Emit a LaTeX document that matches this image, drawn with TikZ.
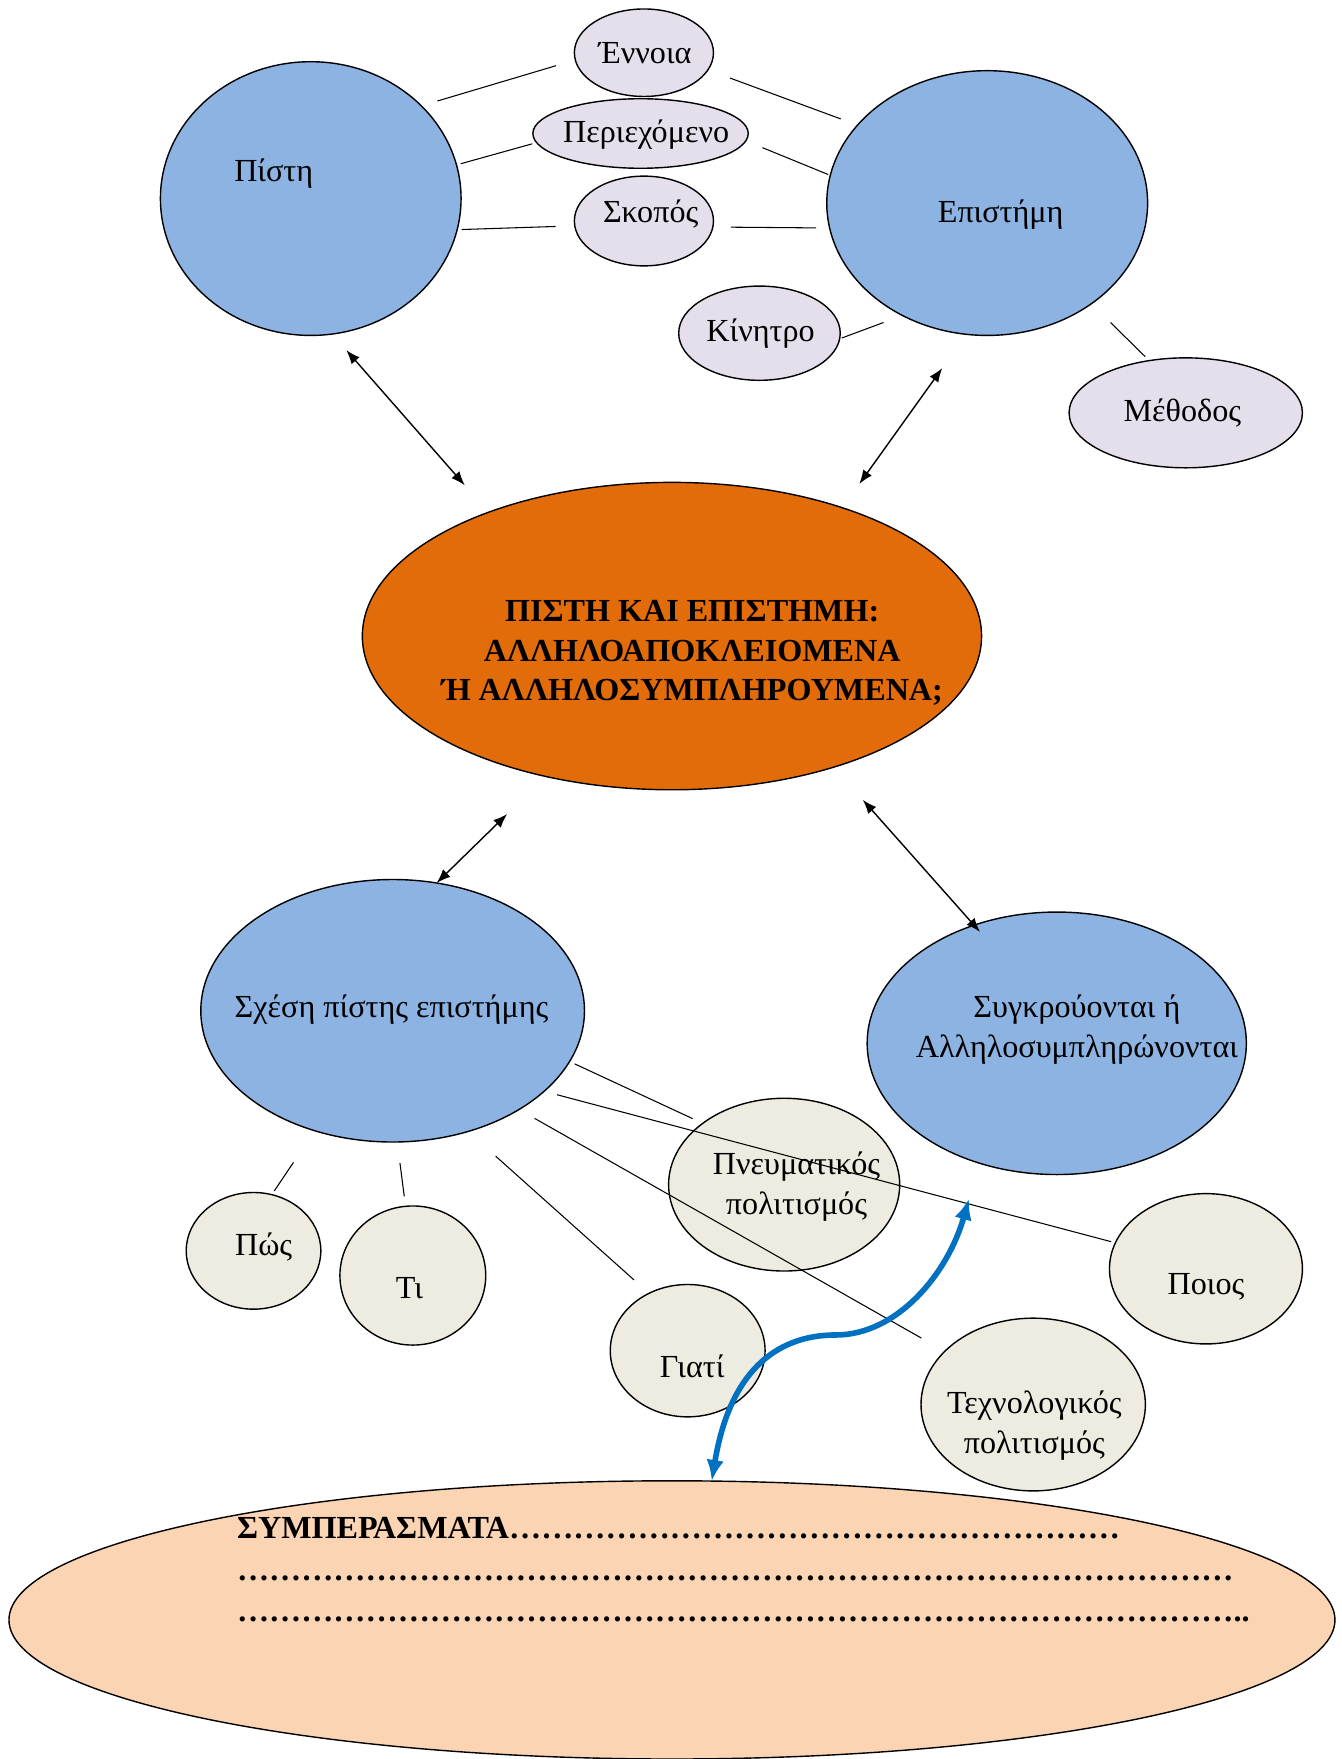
\documentclass[tikz,border=0pt]{standalone}
\usepackage{fontspec}
\setmainfont{Liberation Serif}
\usepackage{tikz}
\usetikzlibrary{arrows.meta,shapes.geometric}

\definecolor{skyfill}{HTML}{8DB3E2}
\definecolor{lilacfill}{HTML}{E5DFEC}
\definecolor{beigefill}{HTML}{EEECE1}
\definecolor{orangefill}{HTML}{E36C0A}
\definecolor{peachfill}{HTML}{FBD4B4}
\definecolor{arrowblue}{HTML}{0070C0}

\newdimen\upx \upx=0.02244cm
\newcommand{\dotrow}[1]{\foreach \k in {1,...,#1}{…}}

\tikzset{
  blob/.style={ellipse, draw, line width=0.8pt, inner sep=0pt, outer sep=0pt},
  bigblob/.style={blob, fill=skyfill},
  smallblob/.style={blob, fill=lilacfill},
  roundblob/.style={blob, fill=beigefill},
  word/.style={inner sep=0pt, align=center, font=\fontsize{18.3}{22.6}\selectfont},
  boldword/.style={word, font=\bfseries\fontsize{18.3}{22.6}\selectfont},
  link/.style={line width=0.6pt},
  twoway/.style={{Latex[length=8pt,width=6pt]}-{Latex[length=8pt,width=6pt]}, line width=0.8pt},
  bluearrow/.style={{Latex[length=12pt,width=10pt]}-{Latex[length=12pt,width=10pt]}, line width=3.2pt, draw=arrowblue}
}

\begin{document}
\begin{tikzpicture}[x=0.02244cm, y=-0.02244cm] % 17 nodes
      \useasboundingbox (0,0) rectangle (1196,1568);
      % top half
      \node[name=pisti, bigblob, minimum width=268\upx, minimum height=244\upx] at (277,177) {};
      \node[name=epist, bigblob, minimum width=286\upx, minimum height=236\upx] at (880,181) {};
      \node[name=ennoia, smallblob, minimum width=124\upx, minimum height=78\upx] at (574,47) {};
      \node[name=periex, smallblob, minimum width=192\upx, minimum height=62\upx] at (571,119) {};
      \node[name=skopos, smallblob, minimum width=124\upx, minimum height=80\upx] at (574,197) {};
      \node[name=kinitro, smallblob, minimum width=144\upx, minimum height=84\upx] at (677,297) {};
      \node[name=methodos, smallblob, minimum width=208\upx, minimum height=98\upx] at (1057,368) {};
      \node[name=central, blob, fill=orangefill, minimum width=552\upx, minimum height=274\upx] at (599,567) {};
      % bottom half
      \node[name=sxesi, bigblob, minimum width=342\upx, minimum height=234\upx] at (350,901) {};
      \node[name=sygkr, bigblob, minimum width=338\upx, minimum height=234\upx] at (942,930) {};
      \node[name=pos, roundblob, minimum width=120\upx, minimum height=104\upx] at (226,1115) {};
      \node[name=ti, roundblob, minimum width=130\upx, minimum height=124\upx] at (368,1137) {};
      \node[name=giati, roundblob, minimum width=138\upx, minimum height=118\upx] at (613,1204) {};
      \node[name=pnevm, roundblob, minimum width=206\upx, minimum height=154\upx] at (699,1056) {};
      \node[name=poios, roundblob, minimum width=172\upx, minimum height=134\upx] at (1075,1131) {};
      \node[name=texnol, roundblob, minimum width=200\upx, minimum height=154\upx] at (921,1252) {};
      \node[name=sympe, blob, fill=peachfill, minimum width=1182\upx, minimum height=248\upx] at (599,1444) {};

      \node[word, name=pistiTxt] at (244,155) {Πίστη};
      \node[word, name=epistTxt] at (892,191) {Επιστήμη};
      \node[word, name=ennoiaTxt] at (575,47) {Έννοια};
      \node[word, name=periexTxt] at (576,120) {Περιεχόμενο};
      \node[word, name=skoposTxt] at (580,191) {Σκοπός};
      \node[word, name=kinitroTxt] at (678,297) {Κίνητρο};
      \node[word, name=methodosTxt] at (1054,368) {Μέθοδος};
      \node[boldword, name=centralTxt] at (617,582) {ΠΙΣΤΗ ΚΑΙ ΕΠΙΣΤΗΜΗ:\\ ΑΛΛΗΛΟΑΠΟΚΛΕΙΟΜΕΝΑ\\ Ή ΑΛΛΗΛΟΣΥΜΠΛΗΡΟΥΜΕΝΑ;};
      \node[word, name=sxesiTxt] at (349,900) {Σχέση πίστης επιστήμης};
      \node[word, name=sygkrTxt] at (960,918) {Συγκρούονται ή\\ Αλληλοσυμπληρώνονται};
      \node[word, name=posTxt] at (235,1112) {Πώς};
      \node[word, name=tiTxt] at (365,1148) {Τι};
      \node[word, name=giatiTxt] at (617,1218) {Γιατί};
      \node[word, name=pnevmTxt] at (710,1058) {Πνευματικός\\ πολιτισμός};
      \node[word, name=poiosTxt] at (1075,1147) {Ποιος};
      \node[word, name=texnolTxt] at (922,1271) {Τεχνολογικός\\ πολιτισμός};
      \node[boldword, name=sympeTxt, align=left, anchor=north west, font=\bfseries\fontsize{18.3}{23.8}\selectfont] at (211,1352) {ΣΥΜΠΕΡΑΣΜΑΤΑ\dotrow{19}\\ \dotrow{31}\\ \dotrow{31}..};

      % links
      \draw[link, shorten <=15\upx, shorten >=18\upx] (pisti.40) -- (ennoia.186);
      \draw[link, shorten <=21\upx, shorten >=16\upx] (ennoia.-15) -- (epist.149);
      \draw[link, shorten <=4\upx, shorten >=4\upx] (pisti.13) -- (periex.185);
      \draw[link, shorten <=16\upx, shorten >=2\upx] (periex.-4) -- (epist.170);
      \draw[link, shorten <=4\upx, shorten >=17\upx] (pisti.-12) -- (skopos.184);
      \draw[link, shorten <=16\upx, shorten >=12\upx] (skopos.-5) -- (epist.189);
      \draw[link, shorten <=2\upx, shorten >=18\upx] (kinitro.-4) -- (epist.-127);
      \draw[link, shorten <=24\upx, shorten >=5\upx] (epist.-44) -- (methodos.125);
      \draw[link, shorten <=34\upx, shorten >=4\upx] (sxesi.-123) -- (pos.72);
      \draw[link, shorten <=19\upx, shorten >=9\upx] (sxesi.-88) -- (ti.96);
      \draw[link, shorten <=33\upx, shorten >=18\upx] (sxesi.-58) -- (giati.124);
      \draw[link, shorten <=5\upx, shorten >=10\upx] (sxesi.-16) -- (pnevm.143);
      \draw[link, shorten <=12\upx, shorten >=4\upx] (sxesi.-28) -- (poios.164);
      \draw[link, shorten <=16\upx, shorten >=24\upx] (sxesi.-38) -- (texnol.149);

      % arrows
      \draw[twoway, shorten <=19\upx, shorten >=32\upx] (pisti.-81) -- (central.146);
      \draw[twoway, shorten <=37\upx, shorten >=26\upx] (epist.-99) -- (central.37);
      \draw[twoway, shorten <=48\upx] (central.-132) -- (sxesi.71);
      \draw[twoway, shorten <=39\upx, shorten >=-8\upx] (central.-39) -- (sygkr.125);
      \coordinate (bend) at (745,1190);
      \draw[bluearrow, shorten >=33\upx] (sympe.74) .. controls (650,1225) and (690,1190) .. (bend) .. controls (800,1190) and (845,1135) .. (sygkr.-123);
   \end{tikzpicture}
\end{document}
